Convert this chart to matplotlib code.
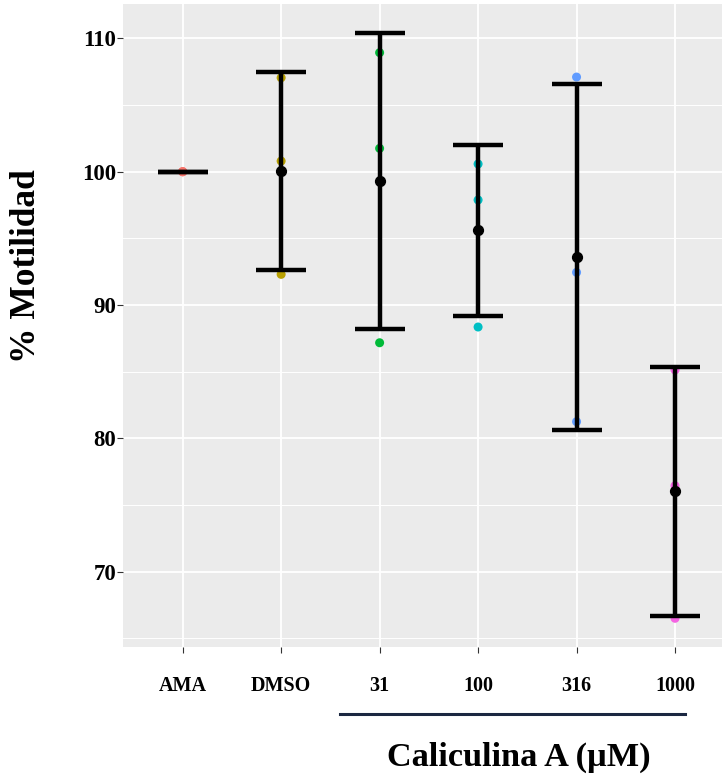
import matplotlib.pyplot as plt
import numpy as np

# groups and replicate values (% motility)
groups = ['AMA', 'DMSO', '31', '100', '316', '1000']
colors = ['#F8766D', '#B79F00', '#00BA38', '#00BFC4', '#619CFF', '#F564E3']
rep1 = [100.0, 107.05, 108.93, 100.58, 107.10, 85.13]
rep2 = [100.0, 100.80, 101.75, 97.88, 92.45, 76.45]
rep3 = [100.0, 92.30, 87.17, 88.35, 81.25, 66.50]

vals = np.array([rep1, rep2, rep3])
means = vals.mean(axis=0)
sds = vals.std(axis=0, ddof=1)
x = np.arange(1, len(groups) + 1)

plt.rcParams['font.family'] = ['Liberation Serif', 'DejaVu Serif']
plt.rcParams['font.weight'] = 'bold'

fig = plt.figure(figsize=(7.22, 7.78), dpi=100)
ax = fig.add_axes([123 / 722, 1 - 646.7 / 778, 1 - 123 / 722, (646.7 - 4) / 778])
ax.set_facecolor('#EBEBEB')

# points
for i in range(len(groups)):
    ax.scatter([x[i]] * 3, vals[:, i], s=42, color=colors[i], marker='o',
               edgecolors='none', zorder=3)

# error bars (mean +- sd)
ax.errorbar(x, means, yerr=sds, fmt='none', ecolor='black', elinewidth=3.2,
            capsize=17.9, capthick=3.2, zorder=4)
has_sd = sds > 0
ax.scatter(x[has_sd], means[has_sd], s=50, color='black', zorder=5)

ax.set_xlim(0.394, 6.477)
ax.set_ylim(64.37, 112.58)
ax.set_xticks(x)
ax.set_xticklabels(groups, fontsize=14.5, fontweight='bold')
ax.set_yticks([70, 80, 90, 100, 110])
ax.set_yticks([65, 75, 85, 95, 105], minor=True)
ax.tick_params(axis='y', labelsize=16.5, length=4, color='#333333', pad=1)
ax.tick_params(axis='y', which='minor', length=0)
ax.tick_params(axis='x', length=4, color='#333333', pad=17)
ax.grid(which='major', color='white', linewidth=1.3)
ax.grid(which='minor', color='white', linewidth=0.7)
ax.set_axisbelow(True)
for s in ax.spines.values():
    s.set_visible(False)

fig.text(27 / 722, 1 - 266 / 778, '% Motilidad', rotation=90, ha='center',
         va='center', fontsize=25.5, fontweight='bold')

# bracket under the Caliculina A doses
fig.add_artist(plt.Line2D([340 / 722, 685 / 722], [1 - 714 / 778] * 2,
                          color='#1B2741', linewidth=2.2))
fig.text(519 / 722, 1 - 757 / 778, 'Caliculina A (µM)', ha='center', va='center',
         fontsize=24.7, fontweight='bold')

fig.savefig('out.png', dpi=100)
